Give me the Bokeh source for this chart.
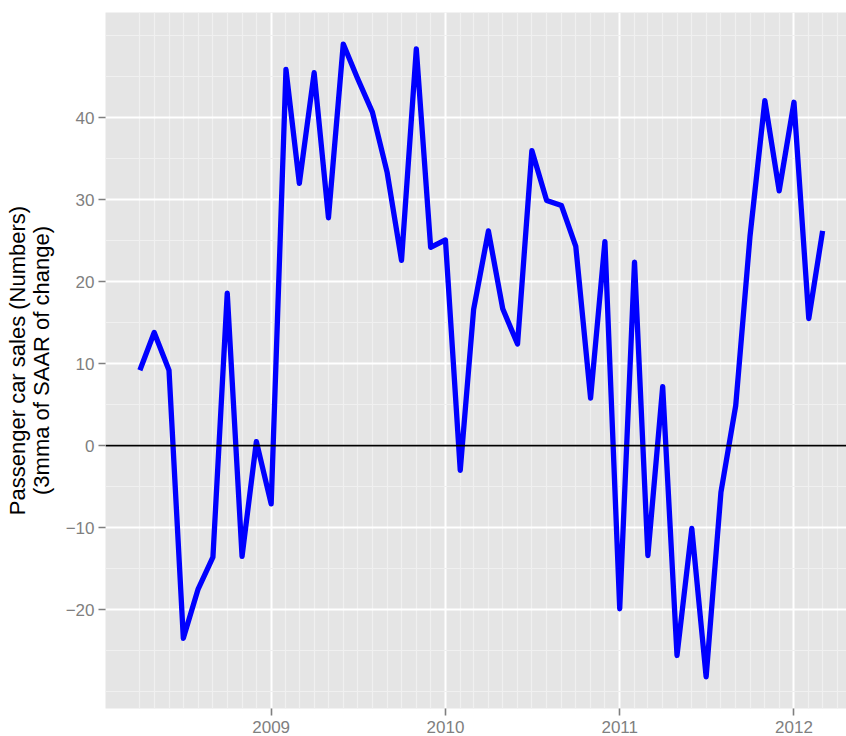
import pandas as pd
from bokeh.plotting import figure
from bokeh.models import FixedTicker, DatetimeTickFormatter, Range1d, Span, ColumnDataSource
from bokeh.embed import file_html
from bokeh.resources import INLINE

# ---- data -------------------------------------------------------------
start_month = "2008-04-01"
values = [
    9.2, 13.8, 9.2, -23.5, -17.5, -13.6, 18.6, -13.5, 0.5,          # 2008 Apr-Dec
    -7.1, 45.9, 32.0, 45.5, 27.8, 49.0, 44.8, 40.7, 33.3, 22.6, 48.4, 24.2,   # 2009
    25.1, -3.0, 16.6, 26.2, 16.7, 12.4, 36.0, 29.9, 29.3, 24.3, 5.8, 24.9,    # 2010
    -19.9, 22.4, -13.4, 7.2, -25.6, -10.1, -28.2, -5.7, 4.9, 25.6, 42.1, 31.1, # 2011
    41.9, 15.5, 26.2,                                                          # 2012 Jan-Mar
]
dates = pd.date_range(start_month, periods=len(values), freq="MS")

year_ticks = ["2009-01-01", "2010-01-01", "2011-01-01", "2012-01-01"]
y_major = [-20, -10, 0, 10, 20, 30, 40]
y_minor = [-30, -25, -15, -5, 5, 15, 25, 35, 45, 50]
y_title = "Passenger car sales (Numbers)\n(3mma of SAAR of change)"

# ---- helpers ----------------------------------------------------------
def ms(d):
    return pd.Timestamp(d).value / 1e6

x_major = [ms(d) for d in year_ticks]
x_minor = [ms(d) for d in pd.date_range("2008-04-01", "2012-06-01", freq="MS") if d.month != 1]

source = ColumnDataSource(data=dict(x=dates, y=values))

FONT = "Liberation Sans"

p = figure(
    width=846, height=736,
    x_axis_type="datetime",
    output_backend="svg", toolbar_location=None,
    x_range=Range1d(pd.Timestamp("2008-01-20"), pd.Timestamp("2012-04-20")),
    y_range=Range1d(-32.07, 52.85),
    min_border_left=105, min_border_right=0, min_border_top=12, min_border_bottom=28,
)
p.background_fill_color = "#E5E5E5"
p.border_fill_color = "white"
p.outline_line_color = None

# x axis
p.xaxis.ticker = FixedTicker(ticks=x_major, minor_ticks=x_minor)
p.xaxis.formatter = DatetimeTickFormatter(years="%Y", months="%Y", days="%Y")
# y axis
p.yaxis.ticker = FixedTicker(ticks=y_major, minor_ticks=y_minor)
p.yaxis.major_label_overrides = {v: (f"\u2212{abs(v)}" if v < 0 else str(v)) for v in y_major}

for ax in (p.xaxis[0], p.yaxis[0]):
    ax.axis_line_color = None
    ax.major_tick_line_color = "#7F7F7F"
    ax.major_tick_line_width = 1.6
    ax.major_tick_out = 7
    ax.major_tick_in = 0
    ax.minor_tick_line_color = None
    ax.major_label_text_color = "#7F7F7F"
    ax.major_label_text_font = FONT
    ax.major_label_text_font_size = "17px"
    ax.major_label_standoff = 4

p.xaxis.major_label_standoff = 5
p.yaxis.axis_label = y_title
p.yaxis.axis_label_text_font = FONT
p.yaxis.axis_label_text_font_size = "22px"
p.yaxis.axis_label_text_font_style = "normal"
p.yaxis.axis_label_text_color = "black"
p.yaxis.axis_label_text_line_height = 0.95
p.yaxis.axis_label_standoff = 9

# grids
for g in (p.xgrid[0], p.ygrid[0]):
    g.grid_line_color = "white"
    g.grid_line_width = 2
    g.minor_grid_line_color = "#F0F0F0"
    g.minor_grid_line_width = 1.2

zero = Span(location=0, dimension="width", line_color="black", line_width=1.6, level="glyph")
p.add_layout(zero)

p.line("x", "y", source=source, line_color="#0000FF", line_width=5.3,
       line_join="round", line_cap="butt")

open("out.html", "w").write(file_html(p, INLINE))
